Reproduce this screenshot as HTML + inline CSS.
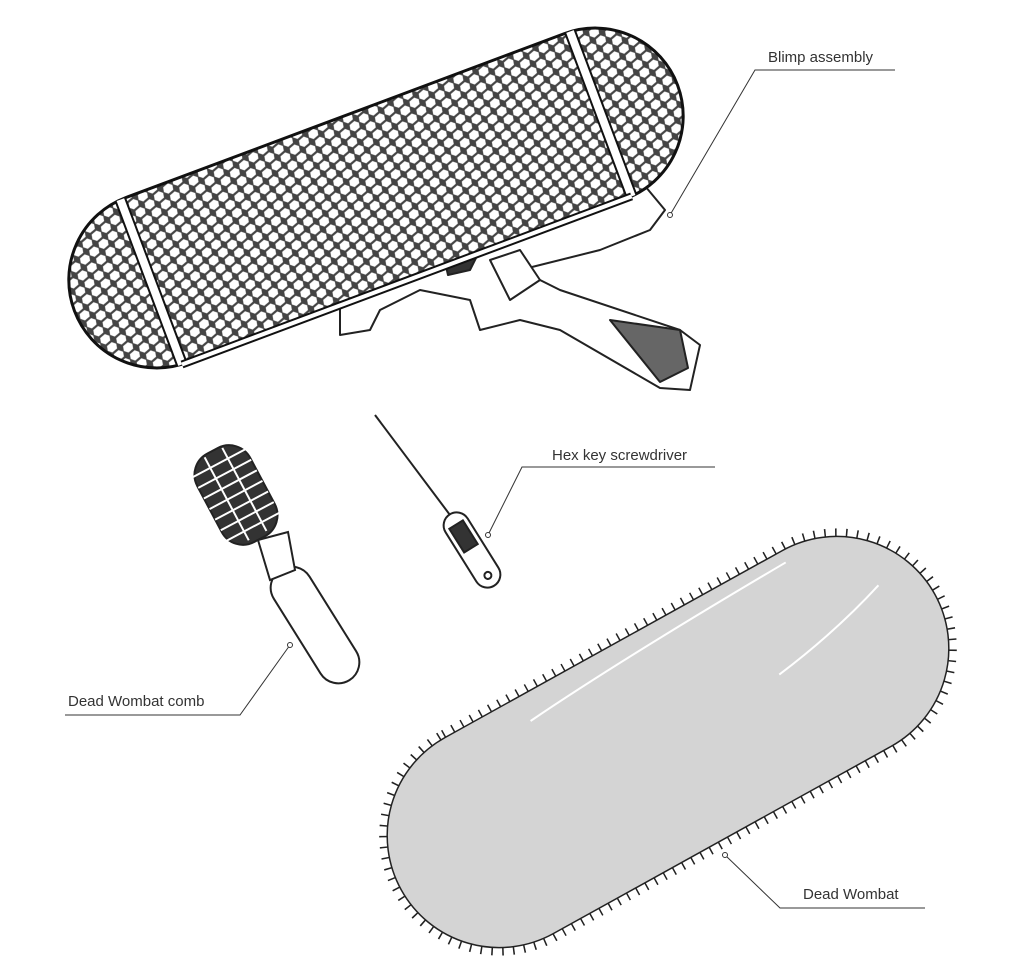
<!DOCTYPE html>
<html><head><meta charset="utf-8"><style>
html,body{margin:0;padding:0;background:#fff;}
svg{display:block}
text{font-family:"Liberation Sans",sans-serif;font-size:15px;fill:#333;}
</style></head><body>
<svg width="1024" height="977" viewBox="0 0 1024 977" xmlns="http://www.w3.org/2000/svg">
<defs>
<pattern id="hex" width="18" height="15.6" patternUnits="userSpaceOnUse" patternTransform="rotate(-20) scale(1.35)">
<rect width="18" height="15.6" fill="#444"/>
<polygon points="2.2,0.8 6.8,0.8 8.6,3.9 6.8,7 2.2,7 0.4,3.9" fill="#fff"/>
<polygon points="11.2,8.6 15.8,8.6 17.6,11.7 15.8,14.8 11.2,14.8 9.4,11.7" fill="#fff"/>
<polygon points="11.2,0.8 15.8,0.8 17.6,3.9 15.8,7 11.2,7 9.4,3.9" fill="#fff"/>
<polygon points="2.2,8.6 6.8,8.6 8.6,11.7 6.8,14.8 2.2,14.8 0.4,11.7" fill="#fff"/>
</pattern>
</defs>

<g stroke="#222" stroke-width="2" fill="#fff" stroke-linejoin="round">
<path d="M340,300 L640,180 L665,210 L650,230 L600,250 L520,270 L560,290 L680,330 L700,345 L690,390 L660,388 L560,330 L520,320 L480,330 L470,300 L420,290 L380,310 L370,330 L340,335 Z"/>
<path d="M490,260 L520,250 L540,280 L510,300 Z"/>
<path d="M610,320 L680,330 L688,368 L660,382 Z" fill="#666"/>
<path d="M445,262 L480,250 L470,270 L448,275 Z" fill="#333"/>
</g>

<g transform="translate(376,198) rotate(-20.5)">
<rect x="-322" y="-88" width="644" height="176" rx="88" fill="url(#hex)"/>
<rect x="-322" y="-88" width="644" height="176" rx="88" fill="none" stroke="#111" stroke-width="3"/>
<line x1="-240" y1="-88" x2="-240" y2="88" stroke="#111" stroke-width="12"/>
<line x1="-240" y1="-88" x2="-240" y2="88" stroke="#fff" stroke-width="8"/>
<line x1="240" y1="-88" x2="240" y2="88" stroke="#111" stroke-width="12"/>
<line x1="240" y1="-88" x2="240" y2="88" stroke="#fff" stroke-width="8"/>
<line x1="-240" y1="88" x2="240" y2="88" stroke="#111" stroke-width="8"/>
<line x1="-240" y1="88" x2="240" y2="88" stroke="#fff" stroke-width="4"/>
</g>

<g stroke="#222" stroke-width="2" fill="#fff">
<g transform="translate(236,495) rotate(-28)">
<rect x="-30" y="-50" width="60" height="100" rx="24" fill="#333"/>
<g stroke="#fff" stroke-width="2">
<line x1="-30" y1="-36" x2="30" y2="-36"/><line x1="-30" y1="-24" x2="30" y2="-24"/>
<line x1="-30" y1="-12" x2="30" y2="-12"/><line x1="-30" y1="0" x2="30" y2="0"/>
<line x1="-30" y1="12" x2="30" y2="12"/><line x1="-30" y1="24" x2="30" y2="24"/>
<line x1="-30" y1="36" x2="30" y2="36"/><line x1="-10" y1="-48" x2="-10" y2="46"/><line x1="10" y1="-48" x2="10" y2="46"/>
</g>
</g>
<g transform="translate(315,625) rotate(-32)">
<rect x="-21" y="-65" width="42" height="130" rx="21"/>
</g>
<path d="M258,540 L288,532 L295,570 L270,580 Z"/>
</g>

<g stroke="#222" stroke-width="2" fill="#fff">
<line x1="375" y1="415" x2="450" y2="515"/>
<g transform="translate(472,550) rotate(-32)">
<rect x="-13" y="-42" width="26" height="84" rx="13"/>
<rect x="-8" y="-30" width="16" height="28" fill="#333"/>
<circle cx="0" cy="30" r="3.5"/>
</g>
</g>

<g transform="translate(668,742) rotate(-29)">
<rect x="-305" y="-112" width="610" height="224" rx="112" fill="#d4d4d4" stroke="#222" stroke-width="16" stroke-dasharray="1.5 9"/>
<rect x="-305" y="-112" width="610" height="224" rx="112" fill="#d4d4d4" stroke="#222" stroke-width="1.5"/>
<path d="M-110,-85 Q0,-95 190,-100" stroke="#fff" stroke-width="2" fill="none"/>
<path d="M130,-5 Q200,-15 260,-35" stroke="#fff" stroke-width="2" fill="none"/>
</g>

<g stroke="#333" stroke-width="1" fill="none">
<polyline points="895,70 755,70 670,215"/>
<circle cx="670" cy="215" r="2.5" fill="#fff"/>
<polyline points="715,467 522,467 488,535"/>
<circle cx="488" cy="535" r="2.5" fill="#fff"/>
<polyline points="65,715 240,715 290,645"/>
<circle cx="290" cy="645" r="2.5" fill="#fff"/>
<polyline points="925,908 780,908 725,855"/>
<circle cx="725" cy="855" r="2.5" fill="#fff"/>
</g>
<text x="768" y="62">Blimp assembly</text>
<text x="552" y="460">Hex key screwdriver</text>
<text x="68" y="706">Dead Wombat comb</text>
<text x="803" y="899">Dead Wombat</text>
</svg>
</body></html>
